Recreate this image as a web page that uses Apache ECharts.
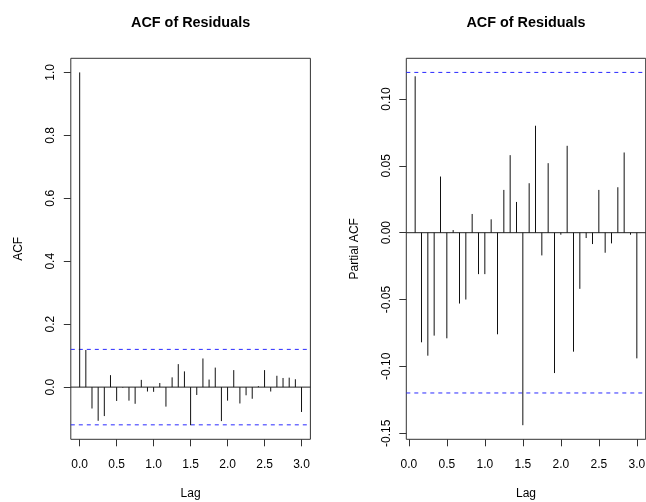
<!DOCTYPE html>
<html>
<head>
<meta charset="utf-8">
<script src="https://cdn.jsdelivr.net/npm/echarts@6/dist/echarts.min.js"></script>
<style>
html,body{margin:0;padding:0;background:#fff;}
#chart{width:646px;height:502px;}
</style>
</head>
<body>
<div id="chart"></div>
<script>
// ---- data ----
var frequency = 12;
var acfLagMonths = [0,1,2,3,4,5,6,7,8,9,10,11,12,13,14,15,16,17,18,19,20,21,22,23,24,25,26,27,28,29,30,31,32,33,34,35,36];
var acfValues = [1.000, 0.118, -0.068, -0.107, -0.092, 0.038, -0.044, -0.002, -0.043, -0.053,
                 0.023, -0.014, -0.015, 0.013, -0.062, 0.031, 0.073, 0.050, -0.121, -0.025,
                 0.091, 0.024, 0.062, -0.108, -0.043, 0.054, -0.052, -0.026, -0.037, 0.003,
                 0.054, -0.014, 0.036, 0.029, 0.030, 0.025, -0.079];
var pacfLagMonths = [1,2,3,4,5,6,7,8,9,10,11,12,13,14,15,16,17,18,19,20,21,22,23,24,25,26,27,28,29,30,31,32,33,34,35,36];
var pacfValues = [0.117, -0.082, -0.092, -0.077, 0.042, -0.079, 0.002, -0.053, -0.050, 0.014,
                  -0.031, -0.031, 0.010, -0.076, 0.032, 0.058, 0.023, -0.144, 0.037, 0.080,
                  -0.017, 0.052, -0.105, -0.0015, 0.065, -0.089, -0.042, -0.004, -0.0085, 0.032,
                  -0.015, -0.008, 0.034, 0.060, -0.0015, -0.094];
var ciLimit = 0.1199;
var xTicks = [0, 0.5, 1.0, 1.5, 2.0, 2.5, 3.0];
var acfYTicks = [0, 0.2, 0.4, 0.6, 0.8, 1.0];
var pacfYTicks = [-0.15, -0.10, -0.05, 0, 0.05, 0.10];
var panelTitles = ['ACF of Residuals', 'ACF of Residuals'];
var yNames = ['ACF', 'Partial ACF'];
var xName = 'Lag';

// ---- helpers ----
function extend(lo, hi) { var d = (hi - lo) * 0.04; return [lo - d, hi + d]; }
function pairs(lags, vals) { return lags.map(function (m, i) { return [m / frequency, vals[i]]; }); }
var acfData = pairs(acfLagMonths, acfValues);
var pacfData = pairs(pacfLagMonths, pacfValues);
var acfX = extend(acfLagMonths[0] / frequency, acfLagMonths[acfLagMonths.length - 1] / frequency);
var pacfX = extend(pacfLagMonths[0] / frequency, pacfLagMonths[pacfLagMonths.length - 1] / frequency);
var acfY = extend(Math.min.apply(null, acfValues.concat([-ciLimit])), Math.max.apply(null, acfValues.concat([ciLimit])));
var pacfY = extend(Math.min.apply(null, pacfValues.concat([-ciLimit])), Math.max.apply(null, pacfValues.concat([ciLimit])));

var FONT = 'Liberation Sans, Arial, sans-serif';
var INK = '#000';
var LINE = '#333';
var CI_BLUE = '#2a2aff';

function xAxisCfg(idx, ext) {
  return {
    type: 'value', gridIndex: idx, min: ext[0], max: ext[1], position: 'bottom',
    name: xName, nameLocation: 'middle', nameGap: 48,
    nameTextStyle: { fontFamily: FONT, fontSize: 12, color: INK },
    axisLine: { show: false, onZero: false },
    axisTick: { show: true, length: 7, customValues: xTicks, lineStyle: { color: LINE } },
    axisLabel: { customValues: xTicks, margin: 19, fontFamily: FONT, fontSize: 12, color: INK,
                 formatter: function (v) { return v.toFixed(1); } },
    splitLine: { show: false }
  };
}
function yAxisCfg(idx, ext, ticks, digits) {
  return {
    type: 'value', gridIndex: idx, min: ext[0], max: ext[1], position: 'left',
    name: yNames[idx], nameLocation: 'middle', nameGap: 46, nameRotate: 90,
    nameTextStyle: { fontFamily: FONT, fontSize: 12, color: INK },
    axisLine: { show: false, onZero: false },
    axisTick: { show: true, length: 7, customValues: ticks, lineStyle: { color: LINE } },
    axisLabel: { customValues: ticks, rotate: 90, margin: 14, fontFamily: FONT, fontSize: 12, color: INK,
                 formatter: function (v) { return v.toFixed(digits); } },
    splitLine: { show: false }
  };
}
function spikes(idx, data) {
  return {
    type: 'custom', xAxisIndex: idx, yAxisIndex: idx, data: data, silent: true, z: 3,
    renderItem: function (params, api) {
      var p0 = api.coord([api.value(0), 0]);
      var p1 = api.coord([api.value(0), api.value(1)]);
      return { type: 'line', shape: { x1: p0[0], y1: p0[1], x2: p1[0], y2: p1[1] },
               style: { stroke: '#111', lineWidth: 1 } };
    }
  };
}
function hLine(idx, xExt, yVal, color, type) {
  return {
    type: 'line', xAxisIndex: idx, yAxisIndex: idx, silent: true, z: 2,
    showSymbol: false, symbol: 'none', animation: false,
    data: [[xExt[0], yVal], [xExt[1], yVal]],
    lineStyle: { color: color, type: type, width: 1 },
    itemStyle: { color: color }
  };
}

var chart = echarts.init(document.getElementById('chart'), null, { renderer: 'canvas' });
chart.setOption({
  animation: false,
  backgroundColor: '#fff',
  title: [
    { text: panelTitles[0], left: 190.6, top: 16.5, textAlign: 'center', padding: 0,
      textStyle: { fontFamily: FONT, fontSize: 14.4, fontWeight: 'bold', color: INK } },
    { text: panelTitles[1], left: 526, top: 16.5, textAlign: 'center', padding: 0,
      textStyle: { fontFamily: FONT, fontSize: 14.4, fontWeight: 'bold', color: INK } }
  ],
  grid: [
    { left: 70.8, top: 58.3, width: 239.6, height: 381, show: true, borderColor: LINE, borderWidth: 1,
      backgroundColor: 'transparent', containLabel: false, outerBoundsMode: 'none' },
    { left: 406.3, top: 58.3, width: 239.4, height: 381, show: true, borderColor: LINE, borderWidth: 1,
      backgroundColor: 'transparent', containLabel: false, outerBoundsMode: 'none' }
  ],
  xAxis: [xAxisCfg(0, acfX), xAxisCfg(1, pacfX)],
  yAxis: [yAxisCfg(0, acfY, acfYTicks, 1), yAxisCfg(1, pacfY, pacfYTicks, 2)],
  series: [
    hLine(0, acfX, 0, '#222', 'solid'),
    hLine(0, acfX, ciLimit, CI_BLUE, [4, 4]),
    hLine(0, acfX, -ciLimit, CI_BLUE, [4, 4]),
    spikes(0, acfData),
    hLine(1, pacfX, 0, '#222', 'solid'),
    hLine(1, pacfX, ciLimit, CI_BLUE, [4, 4]),
    hLine(1, pacfX, -ciLimit, CI_BLUE, [4, 4]),
    spikes(1, pacfData)
  ]
});
</script>
</body>
</html>
